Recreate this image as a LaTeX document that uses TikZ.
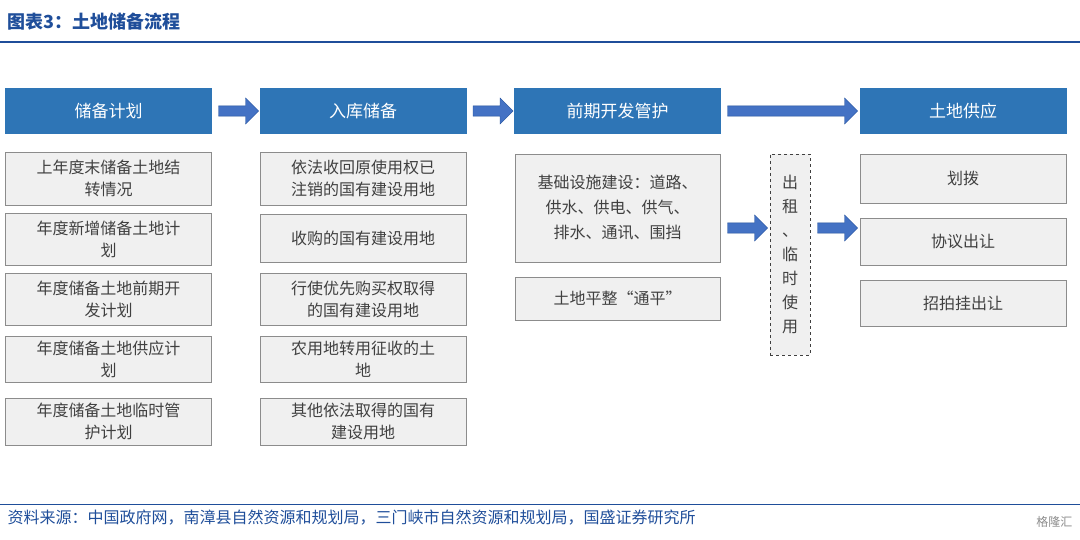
\documentclass[tikz,border=0pt]{standalone}
\usepackage{fontspec}
\setmainfont{Noto Sans CJK SC}
\usetikzlibrary{shapes.arrows}
\definecolor{hdblue}{HTML}{2E75B6}
\definecolor{arrblue}{HTML}{4472C4}
\definecolor{boxgray}{HTML}{F0F0F0}
\definecolor{linegray}{HTML}{8C8C8C}
\definecolor{txtgray}{HTML}{404040}
\definecolor{titleblue}{HTML}{1F4E9A}
\tikzset{
  head/.style={fill=hdblue,text=white,minimum width=207pt,minimum height=46pt,font=\fontsize{17}{20}\selectfont},
  item/.style={draw=linegray,fill=boxgray,text=txtgray,minimum width=206pt,align=center,font=\fontsize{16}{22}\selectfont},
  bigarrow/.style={single arrow,fill=arrblue,draw=titleblue,minimum height=40pt,minimum width=26pt,single arrow head extend=5pt,inner sep=3pt}
}
\begin{document}
\begin{tikzpicture}[x=1pt,y=-1pt]
\useasboundingbox (0,0) rectangle (1080,540);
% title and rules
\node (title) [anchor=west,text=titleblue,font=\bfseries\itshape\fontsize{18}{20}\selectfont] at (4,22) {图表3：土地储备流程};
\draw[titleblue,line width=1.2pt] (0,42) -- (1080,42);
\draw[titleblue,line width=1pt] (0,504) -- (1080,504);
\node (src) [anchor=west,text=titleblue,font=\itshape\fontsize{16}{18}\selectfont] at (4,518) {资料来源：中国政府网，南漳县自然资源和规划局，三门峡市自然资源和规划局，国盛证券研究所};
\node (logo) [anchor=east,text=linegray,font=\fontsize{12}{14}\selectfont] at (1076,522) {格隆汇};
% header row
\node (h1) [head] at (108.5,111) {储备计划};
\node (h2) [head] at (363,111) {入库储备};
\node (h3) [head] at (617.5,111) {前期开发管护};
\node (h4) [head] at (963,111) {土地供应};
\node (a1) [bigarrow] at (236,111) {};
\node (a2) [bigarrow] at (490.5,111) {};
\node (a3) [bigarrow,minimum height=130pt] at (790,111) {};
% column 1
\node (p1) [item,minimum height=53pt] at (108.5,178.5) {上年度末储备土地结\\转情况};
\node (p2) [item,minimum height=52pt] at (108.5,239) {年度新增储备土地计\\划};
\node (p3) [item,minimum height=52pt] at (108.5,299) {年度储备土地前期开\\发计划};
\node (p4) [item,minimum height=46pt] at (108.5,359) {年度储备土地供应计\\划};
\node (p5) [item,minimum height=47pt] at (108.5,421.5) {年度储备土地临时管\\护计划};
% column 2
\node (r1) [item,minimum height=53pt] at (363,178.5) {依法收回原使用权已\\注销的国有建设用地};
\node (r2) [item,minimum height=48pt] at (363,238) {收购的国有建设用地};
\node (r3) [item,minimum height=52pt] at (363,299) {行使优先购买权取得\\的国有建设用地};
\node (r4) [item,minimum height=46pt] at (363,359) {农用地转用征收的土\\地};
\node (r5) [item,minimum height=47pt] at (363,421.5) {其他依法取得的国有\\建设用地};
% column 3
\node (d1) [item,minimum height=108pt,minimum width=205pt,font=\fontsize{16}{25}\selectfont] at (617.5,208) {基础设施建设：道路、\\供水、供电、供气、\\排水、通讯、围挡};
\node (d2) [item,minimum height=43pt,minimum width=205pt] at (617.5,298.5) {土地平整“通平”};
\node (lease) [draw=txtgray,dashed,thick,fill=boxgray,text=txtgray,minimum width=40pt,minimum height=201pt,align=center,font=\fontsize{16}{24}\selectfont] at (790,254.5) {出\\租\\、\\临\\时\\使\\用};
\node (a4) [bigarrow] at (745,228) {};
\node (a5) [bigarrow] at (835,228) {};
% column 4
\node (s1) [item,minimum height=49pt] at (963,178.5) {划拨};
\node (s2) [item,minimum height=47pt] at (963,241.5) {协议出让};
\node (s3) [item,minimum height=46pt] at (963,303) {招拍挂出让};
\end{tikzpicture}
\end{document}
